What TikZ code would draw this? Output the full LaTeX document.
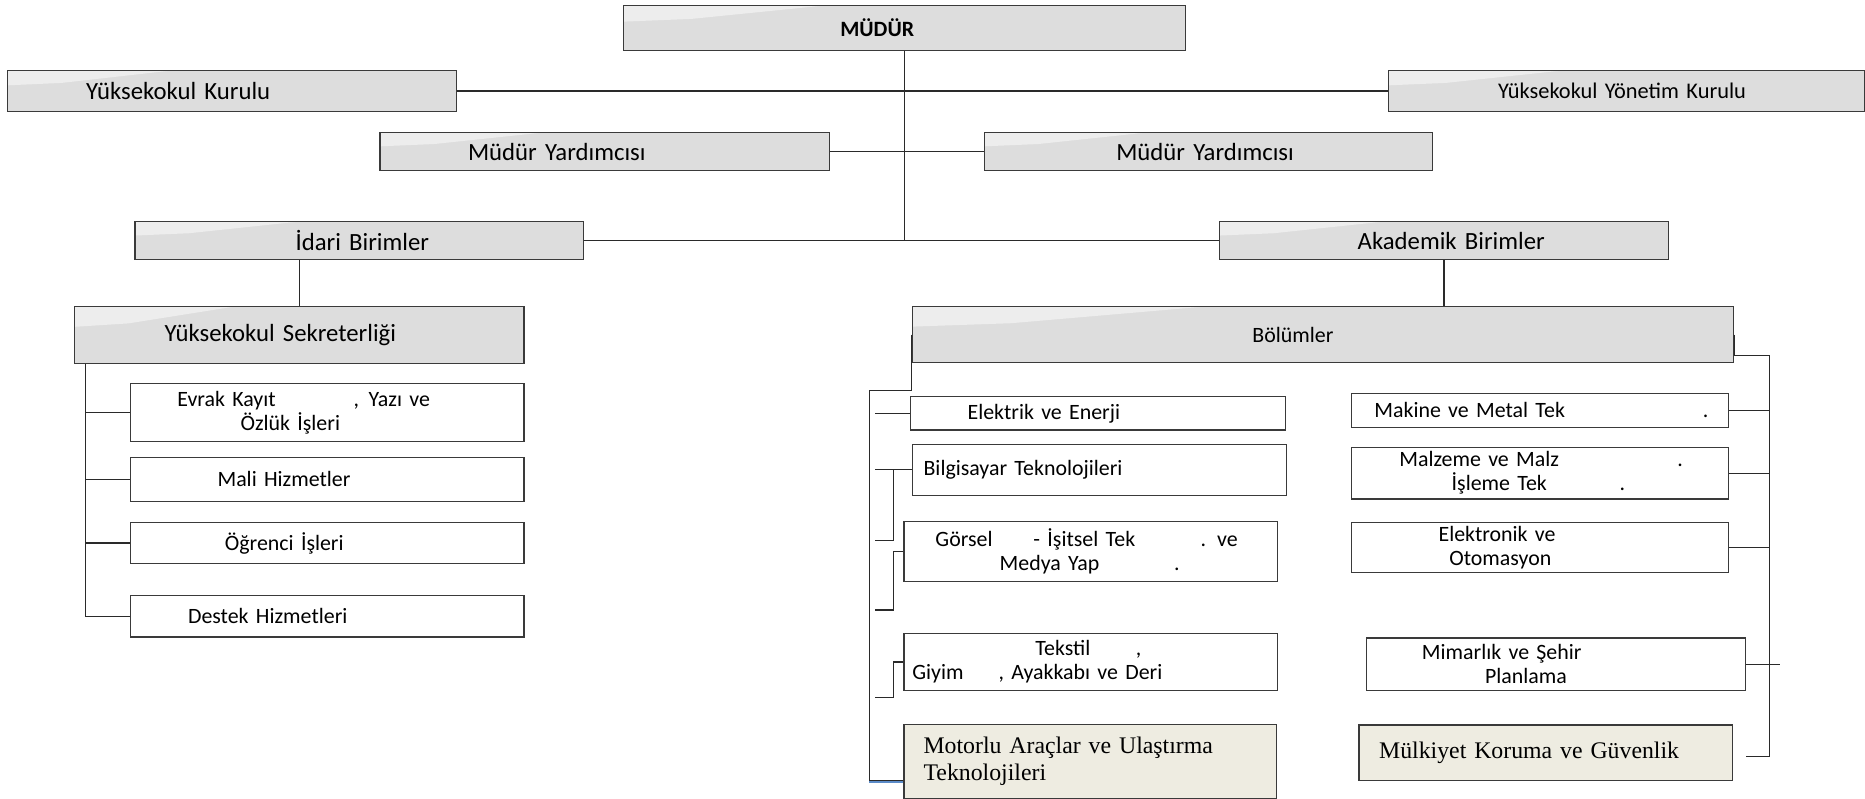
\documentclass[tikz,border=0pt]{standalone}
\usepackage{fontspec}
\setmainfont{Carlito}
\newfontfamily\timesf{Liberation Serif}
\usetikzlibrary{calc}
\definecolor{boxgray}{HTML}{DDDDDD}
\definecolor{hlgray}{HTML}{EDEDED}
\definecolor{boxline}{HTML}{3A3A3A}
\definecolor{connline}{HTML}{2A2A2A}
\definecolor{tanfill}{HTML}{EEECE1}
\definecolor{blueline}{HTML}{5B8BC8}
\newcommand{\fntL}{\fontsize{10.4pt}{12pt}\selectfont}
\newcommand{\fntS}{\fontsize{9.2pt}{10.1pt}\selectfont}
\newcommand{\fntY}{\fontsize{9.4pt}{11pt}\selectfont}
\newcommand{\fntB}{\fontsize{9.2pt}{11pt}\selectfont\bfseries}
\newcommand{\fntT}{\timesf\fontsize{10pt}{11.3pt}\selectfont}
\begin{document}
\begin{tikzpicture}[x=0.5pt,y=-0.5pt,
  box/.style={draw=boxline, line width=0.5pt, inner xsep=0pt, inner ysep=0pt, anchor=north west, align=left},
  gbox/.style={box, fill=boxgray, path picture={
    \fill[hlgray] let \p1=(path picture bounding box.south west), \p2=(path picture bounding box.north east) in
      (\x1,\y2) -- ({\x1+0.36*(\x2-\x1)},\y2) -- ({\x1+0.12*(\x2-\x1)},{\y2-0.3*(\y2-\y1)}) -- (\x1,{\y2-0.36*(\y2-\y1)}) -- cycle;}},
  wbox/.style={box, fill=white},
  tbox/.style={box, fill=tanfill},
  conn/.style={draw=connline, line width=0.5pt},
  blue/.style={draw=blueline, line width=0.5pt},
]
\path[fill=white, use as bounding box] (0,0) rectangle (1568,671);

% top level
\node[gbox, text width=236pt, minimum height=19pt, font=\fntB] (mudur) at (524,4) {\hspace*{91pt}MÜDÜR};
\node[gbox, text width=188.5pt, minimum height=17pt, font=\fntL] (ykurul) at (6,59) {\hspace*{33pt}Yüksekokul Kurulu};
\node[gbox, text width=200pt, minimum height=17pt, font=\fntY] (yyonetim) at (1167,59) {\hspace*{46pt}Yüksekokul Yönetim Kurulu};
\node[gbox, text width=189pt, minimum height=16pt, font=\fntL] (myL) at (319,111) {\hspace*{37pt}Müdür Yardımcısı};
\node[gbox, text width=188.5pt, minimum height=16pt, font=\fntL] (myR) at (827,111) {\hspace*{55.5pt}Müdür Yardımcısı};
\node[gbox, text width=188.5pt, minimum height=16pt, font=\fntL] (idari) at (113,186) {\hspace*{67.5pt}İdari Birimler};
\node[gbox, text width=188.5pt, minimum height=16pt, font=\fntL] (akad) at (1025,186) {\hspace*{58pt}Akademik Birimler};

% idari side
\node[gbox, text width=189pt, minimum height=24pt, font=\fntL] (sekr) at (62,257) {\hspace*{38pt}Yüksekokul Sekreterliği};
\node[wbox, text width=165.5pt, minimum height=24.5pt, font=\fntS] (evrak) at (109,322) {\hspace*{19.8pt}Evrak Kayıt\hspace{32.8pt},\hspace{4pt}Yazı ve\\\hspace*{46.4pt}Özlük İşleri};
\node[wbox, text width=165.5pt, minimum height=18.5pt, font=\fntS] (mali) at (109,384) {\hspace*{36.7pt}Mali Hizmetler};
\node[wbox, text width=165.5pt, minimum height=17pt, font=\fntS] (ogr) at (109,439) {\hspace*{39.8pt}Öğrenci İşleri};
\node[wbox, text width=165.5pt, minimum height=17.5pt, font=\fntS] (destek) at (109,500) {\hspace*{24.3pt}Destek Hizmetleri};

% akademik side
\node[gbox, text width=345.25pt, minimum height=23.75pt, font=\fntS] (bolum) at (766.5,257) {\hspace*{143pt}Bölümler};
\node[wbox, text width=157.5pt, minimum height=14pt, font=\fntS] (elek) at (765,333) {\hspace*{24pt}Elektrik ve Enerji};
\node[wbox, text width=157.25pt, minimum height=21.5pt, font=\fntS] (bilg) at (766.5,373) {\hspace*{4.75pt}Bilgisayar Teknolojileri};
\node[wbox, text width=157pt, minimum height=25.35pt, font=\fntS] (gors) at (759.5,437.8) {\hspace*{13.25pt}Görsel\hspace{17.2pt}- İşitsel Tek\hspace{27.5pt}. ve\\\hspace*{40.25pt}Medya Yap\hspace{31.4pt}.};
\node[wbox, text width=157pt, minimum height=24pt, font=\fntS] (teks) at (759.5,532) {\hspace*{55.25pt}Tekstil\hspace{19.2pt},\\\hspace*{3.5pt}Giyim\hspace{14.75pt}, Ayakkabı ve Deri};
\node[tbox, text width=156.75pt, minimum height=30.9pt, font=\fntT] (motor) at (759.5,608.7) {\hspace*{8.25pt}Motorlu Araçlar ve Ulaştırma\\\hspace*{8.25pt}Teknolojileri};

\node[wbox, text width=158.5pt, minimum height=14.35pt, font=\fntS] (makine) at (1136,330) {\hspace*{9.5pt}Makine ve Metal Tek\hspace{58pt}.};
\node[wbox, text width=158.5pt, minimum height=21.75pt, font=\fntS] (malz) at (1136,375.5) {\hspace*{20pt}Malzeme ve Malz\hspace{49.8pt}.\\\hspace*{42pt}İşleme Tek\hspace{30.6pt}.};
\node[wbox, text width=158.5pt, minimum height=21pt, font=\fntS] (elektro) at (1136,438.6) {\hspace*{36.5pt}Elektronik ve\\\hspace*{41pt}Otomasyon};
\node[wbox, text width=159.25pt, minimum height=22.05pt, font=\fntS] (mimar) at (1148.5,535.9) {\hspace*{23.25pt}Mimarlık ve Şehir\\\hspace*{49.75pt}Planlama};
\node[tbox, text width=157pt, minimum height=23.4pt, font=\fntT] (mulk) at (1142,609) {\hspace*{8.5pt}Mülkiyet Koruma ve Güvenlik};

% top connectors
\draw[conn] (mudur.south) -- (mudur.south |- idari.east);
\draw[conn] (ykurul.east) -- (yyonetim.west);
\draw[conn] (myL.east) -- (myR.west);
\draw[conn] (idari.east) -- (akad.west);
\draw[conn] (sekr.north) -- (sekr.north |- idari.south);
\draw[conn] (akad.south) -- (akad.south |- bolum.north);

% idari tree
\coordinate (sspine) at ([xshift=5pt]sekr.south west);
\draw[conn] (sspine) |- (destek.west);
\draw[conn] (sspine |- evrak.west) -- (evrak.west);
\draw[conn] (sspine |- mali.west) -- (mali.west);
\draw[conn] (sspine |- ogr.west) -- (ogr.west);

% bolumler left tree
\coordinate (lsp) at (731,328);
\coordinate (lbot) at (731,656);
\coordinate (lbotb) at (731,657.4);
\coordinate (lbr) at (735.7,0);
\coordinate (lbk) at (751,0);
\draw[conn] (bolum.west) -- (bolum.south west |- lsp) -- (lsp) -- (lbot) -- (lbot -| motor.west);
\draw[blue] (lbotb) -- (lbotb -| motor.west);
\draw[conn] (lbr |- elek.west) -- (elek.west);
\draw[conn] (lbr |- bilg.west) -- (bilg.west);
\coordinate (bk1) at (751,454.6);
\draw[conn] (lbk |- bilg.west) -- (bk1) -- (bk1 -| lbr);
\coordinate (bk2) at (751,512.9);
\draw[conn] (gors.west) -- (gors.west -| lbk) -- (bk2) -- (bk2 -| lbr);
\coordinate (bk3) at (751,586.3);
\draw[conn] (teks.west) -- (teks.west -| lbk) -- (bk3) -- (bk3 -| lbr);

% bolumler right tree
\coordinate (rsp) at (1487.7,299);
\coordinate (rbot) at (1487.7,635.7);
\coordinate (rend) at (1467.8,635.7);
\coordinate (mimend) at (1496.6,0);
\draw[conn] (bolum.east) -- (bolum.east |- rsp) -- (rsp) -- (rbot) -- (rend);
\draw[conn] (makine.east) -- (makine.east -| rsp);
\draw[conn] (malz.east) -- (malz.east -| rsp);
\draw[conn] (elektro.east) -- (elektro.east -| rsp);
\draw[conn] (mimar.east) -- (mimar.east -| mimend);
\end{tikzpicture}
\end{document}
